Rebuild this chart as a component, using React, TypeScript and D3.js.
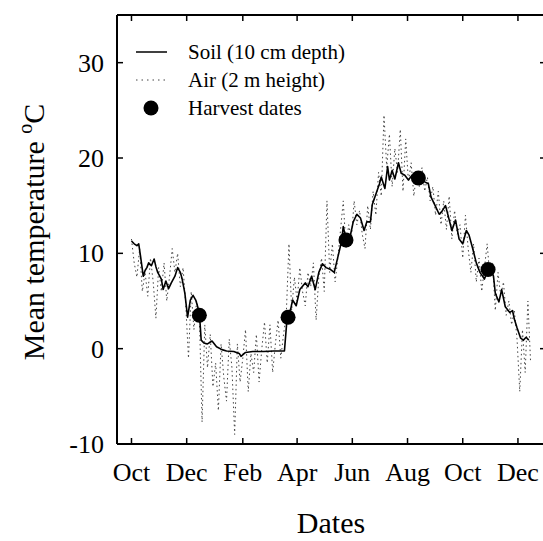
import React, { useRef, useEffect } from 'react';
import * as d3 from 'd3';

// day 0 of every series = 1 Oct 1999
const seriesStart = Date.UTC(1999, 9, 1);

const xTickDates = ['1999-10-01', '1999-12-01', '2000-02-01', '2000-04-01', '2000-06-01', '2000-08-01', '2000-10-01', '2000-12-01'];
const xTickLabels = ['Oct', 'Dec', 'Feb', 'Apr', 'Jun', 'Aug', 'Oct', 'Dec'];
const yTicks = [-10, 0, 10, 20, 30];

// soil temperature, 10 cm depth: [day, °C]
const soil: [number, number][] = [
  [0, 11.3], [3, 11.0], [6, 10.8], [8, 11.0], [10, 9.7], [13, 7.6], [15, 8.2], [17, 8.5], [19, 9.0], [22, 8.7],
  [25, 9.4], [27, 8.6], [29, 8.0], [33, 7.3], [35, 6.2], [38, 7.1], [41, 6.3], [44, 6.9], [48, 7.6], [51, 8.5],
  [54, 8.0], [56, 7.3], [59, 5.8], [62, 3.3], [65, 5.1], [68, 5.6], [71, 5.1], [75, 3.8], [77, 0.9], [80, 0.6],
  [84, 0.5], [89, 0.8], [94, 0.2], [100, -0.1], [105, -0.25], [113, -0.3], [119, -0.5], [121, -0.8], [126, -0.4],
  [134, -0.3], [146, -0.3], [157, -0.25], [169, -0.25], [172, 3.3], [176, 4.2], [178, 5.1], [182, 4.5], [186, 6.2],
  [192, 6.9], [195, 6.5], [199, 7.6], [203, 6.2], [207, 8.0], [211, 8.9], [215, 8.5], [220, 8.3], [224, 8.0],
  [228, 9.6], [232, 11.2], [234, 12.8], [237, 11.5], [241, 11.5], [245, 13.3], [249, 14.1], [253, 13.7], [257, 12.4],
  [260, 13.3], [264, 13.3], [266, 15.1], [270, 16.2], [274, 17.3], [276, 18.0], [280, 16.8], [283, 19.1], [285, 17.7],
  [288, 18.7], [291, 17.8], [295, 19.5], [298, 18.4], [302, 18.2], [306, 17.7], [310, 18.2], [314, 18.0], [318, 17.9],
  [324, 17.5], [328, 17.3], [331, 15.9], [335, 15.1], [340, 14.1], [343, 14.4], [347, 15.0], [350, 13.9], [354, 12.4],
  [358, 13.5], [362, 11.5], [366, 11.0], [370, 12.4], [373, 11.9], [377, 10.5], [381, 9.0], [385, 8.0], [390, 7.3],
  [394, 8.3], [398, 8.0], [400, 7.6], [402, 5.8], [406, 4.9], [409, 6.2], [413, 4.4], [418, 3.8], [421, 4.0],
  [423, 3.1], [426, 2.2], [430, 1.1], [433, 0.9], [436, 1.2], [439, 0.9],
];

// air temperature, 2 m height, one reading every airStep days from day 0
const airStep = 3;
const air = [
  11.5, 9.0, 7.5, 10.5, 6.0, 8.0, 5.5, 9.5, 7.0, 3.2, 8.5,
  6.0, 9.0, 5.0, 7.5, 10.5, 8.0, 10.0, 6.5, 8.5, 4.5,
  -1.0, 6.0, 2.0, 5.0, 3.5, -7.7, 2.5, -2.0, 1.5, -4.0,
  -1.5, -6.5, 0.5, -3.0, -5.5, 1.0, -2.0, -9.0, 0.5, -3.5,
  -1.0, 2.0, -4.5, -0.5, -2.5, 1.5, -3.5, 0.0, 2.8, -1.5,
  2.5, -2.5, 0.5, 3.0, -1.0, 1.5, 3.5, 11.0, 4.0, 7.5,
  5.0, 8.5, 6.0, 4.5, 8.0, 6.5, 9.0, 3.0, 7.5, 9.5,
  6.0, 15.5, 8.0, 11.0, 7.0, 9.5, 12.5, 15.5, 10.5, 13.0,
  11.5, 15.5, 13.0, 14.5, 12.0, 10.5, 15.0, 12.5, 16.5, 14.0,
  18.5, 16.0, 24.5, 19.0, 22.5, 17.0, 21.0, 18.5, 23.0, 16.5,
  22.0, 17.5, 19.5, 16.0, 18.5, 17.0, 19.0, 16.5, 18.0, 15.5,
  17.0, 14.0, 16.5, 13.0, 15.5, 12.5, 16.0, 11.5, 14.5, 12.0,
  13.0, 9.5, 14.0, 10.5, 8.0, 11.0, 7.0, 9.5, 6.0, 8.5,
  11.0, 7.5, 9.0, 4.0, 8.0, 5.5, 7.0, 3.5, 5.0, 2.5,
  4.0, 1.0, -4.5, 2.0, -2.5, 5.0, -1.5,
];

// harvest dates: [day, °C]
const harvest: [number, number][] = [[75, 3.5], [173, 3.3], [237, 11.4], [317, 17.9], [394, 8.3]];

const legendLabels = ['Soil (10 cm depth)', 'Air (2 m height)', 'Harvest dates'];

const dayToDate = (d: number) => new Date(seriesStart + d * 86400000);

const Chart = () => {
  const ref = useRef<SVGSVGElement>(null);

  useEffect(() => {
    const svg = d3.select(ref.current);
    svg.selectAll('*').remove();

    const width = 543;
    const height = 541;
    const plot = { left: 117, right: 546, top: 15, bottom: 444 };
    const font = 'Liberation Serif, Times New Roman, serif';

    const x = d3
      .scaleUtc()
      .domain([new Date(Date.UTC(1999, 8, 15)), new Date(Date.UTC(2001, 0, 1))])
      .range([plot.left, plot.right]);
    const y = d3.scaleLinear().domain([-10, 35]).range([plot.bottom, plot.top]);

    // air (dotted)
    const airLine = d3
      .line<number>()
      .x((_, i) => x(dayToDate(i * airStep)))
      .y((d) => y(d));
    svg
      .append('path')
      .datum(air)
      .attr('d', airLine)
      .attr('fill', 'none')
      .attr('stroke', '#444')
      .attr('stroke-width', 1)
      .attr('stroke-dasharray', '1.5 3');

    // soil (solid)
    const soilLine = d3
      .line<[number, number]>()
      .x((d) => x(dayToDate(d[0])))
      .y((d) => y(d[1]));
    svg
      .append('path')
      .datum(soil)
      .attr('d', soilLine)
      .attr('fill', 'none')
      .attr('stroke', '#000')
      .attr('stroke-width', 1.6)
      .attr('stroke-linejoin', 'round');

    svg
      .append('g')
      .selectAll('circle')
      .data(harvest)
      .join('circle')
      .attr('cx', (d) => x(dayToDate(d[0])))
      .attr('cy', (d) => y(d[1]))
      .attr('r', 7.5)
      .attr('fill', '#000');

    // frame
    const frame = svg.append('g').attr('stroke', '#000').attr('stroke-width', 2);
    frame.append('line').attr('x1', plot.left).attr('x2', plot.right).attr('y1', plot.bottom).attr('y2', plot.bottom);
    frame.append('line').attr('x1', plot.left).attr('x2', plot.right).attr('y1', plot.top).attr('y2', plot.top);
    frame.append('line').attr('x1', plot.left).attr('x2', plot.left).attr('y1', plot.top).attr('y2', plot.bottom);
    frame.append('line').attr('x1', plot.right).attr('x2', plot.right).attr('y1', plot.top).attr('y2', plot.bottom);

    // x ticks (inward, top and bottom)
    const tickLen = 6;
    const xt = xTickDates.map((s) => new Date(s + 'T00:00:00Z'));
    const ticks = svg.append('g').attr('stroke', '#000').attr('stroke-width', 1.5);
    ticks
      .selectAll('line.xb')
      .data(xt)
      .join('line')
      .attr('class', 'xb')
      .attr('x1', (d) => x(d))
      .attr('x2', (d) => x(d))
      .attr('y1', plot.bottom)
      .attr('y2', plot.bottom - tickLen);
    ticks
      .selectAll('line.xt')
      .data(xt)
      .join('line')
      .attr('class', 'xt')
      .attr('x1', (d) => x(d))
      .attr('x2', (d) => x(d))
      .attr('y1', plot.top)
      .attr('y2', plot.top + tickLen);
    ticks
      .selectAll('line.yl')
      .data(yTicks)
      .join('line')
      .attr('class', 'yl')
      .attr('x1', plot.left)
      .attr('x2', plot.left + tickLen)
      .attr('y1', (d) => y(d))
      .attr('y2', (d) => y(d));
    ticks
      .selectAll('line.yr')
      .data(yTicks)
      .join('line')
      .attr('class', 'yr')
      .attr('x1', plot.right)
      .attr('x2', plot.right - tickLen)
      .attr('y1', (d) => y(d))
      .attr('y2', (d) => y(d));

    // tick labels
    svg
      .append('g')
      .selectAll('text')
      .data(xt)
      .join('text')
      .attr('x', (d) => x(d))
      .attr('y', 481)
      .attr('text-anchor', 'middle')
      .attr('font-family', font)
      .attr('font-size', 26)
      .text((_, i) => xTickLabels[i]);
    svg
      .append('g')
      .selectAll('text')
      .data(yTicks)
      .join('text')
      .attr('x', 104)
      .attr('y', (d) => y(d))
      .attr('dy', '0.35em')
      .attr('text-anchor', 'end')
      .attr('font-family', font)
      .attr('font-size', 26)
      .text((d) => String(d));

    // axis titles
    svg
      .append('text')
      .attr('x', 331)
      .attr('y', 533)
      .attr('text-anchor', 'middle')
      .attr('font-family', font)
      .attr('font-size', 30)
      .text('Dates');

    const yTitle = svg
      .append('text')
      .attr('transform', 'translate(44,232) rotate(-90)')
      .attr('text-anchor', 'middle')
      .attr('font-family', font)
      .attr('font-size', 30);
    yTitle.append('tspan').text('Mean temperature ');
    yTitle.append('tspan').attr('font-size', 20).attr('dy', -12).text('o');
    yTitle.append('tspan').attr('dy', 12).text('C');

    // legend
    const lg = svg.append('g').attr('font-family', font).attr('font-size', 21);
    const rows = [52, 80, 108];
    lg.append('line').attr('x1', 136).attr('x2', 167).attr('y1', rows[0]).attr('y2', rows[0]).attr('stroke', '#000').attr('stroke-width', 1.5);
    lg.append('line')
      .attr('x1', 136)
      .attr('x2', 167)
      .attr('y1', rows[1])
      .attr('y2', rows[1])
      .attr('stroke', '#444')
      .attr('stroke-width', 1)
      .attr('stroke-dasharray', '1.5 4');
    lg.append('circle').attr('cx', 151).attr('cy', rows[2]).attr('r', 7.5).attr('fill', '#000');
    lg.selectAll('text')
      .data(legendLabels)
      .join('text')
      .attr('x', 188)
      .attr('y', (_, i) => rows[i])
      .attr('dy', '0.35em')
      .text((d) => d);
  }, []);

  return (
    <svg
      ref={ref}
      width={543}
      height={541}
      style={{ position: 'fixed', left: 0, top: 0, background: '#fff', overflow: 'hidden' }}
    />
  );
};

export default function App() {
  return <Chart />;
}
